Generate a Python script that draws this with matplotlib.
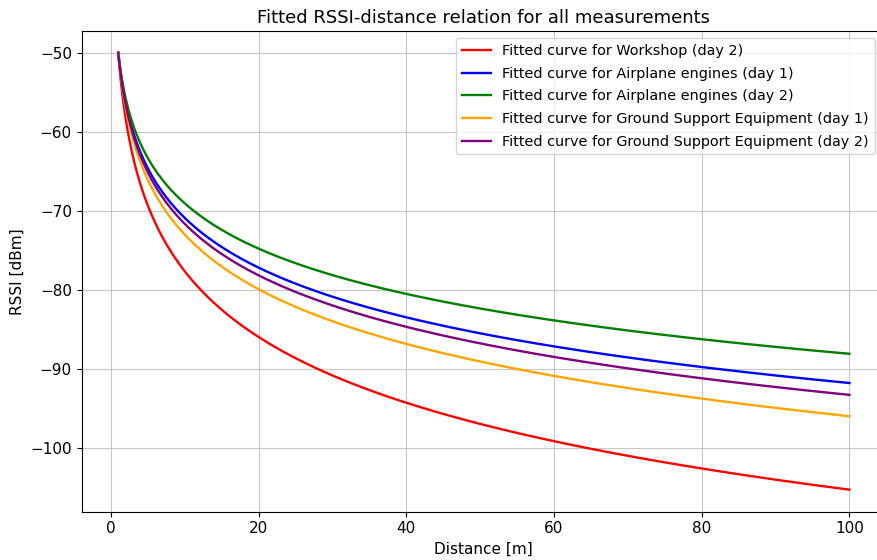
import matplotlib
matplotlib.use("Agg")
import matplotlib.pyplot as plt
import numpy as np

# log-distance fits: RSSI(d) = rssi_1m - 10 * n * log10(d)
labels = [
    "Fitted curve for Workshop (day 2)",
    "Fitted curve for Airplane engines (day 1)",
    "Fitted curve for Airplane engines (day 2)",
    "Fitted curve for Ground Support Equipment (day 1)",
    "Fitted curve for Ground Support Equipment (day 2)",
]
colors = ["red", "blue", "green", "orange", "purple"]
rssi_1m = [-50.0, -50.0, -50.0, -50.0, -50.0]
path_loss_exp = [2.765, 2.09, 1.905, 2.30, 2.165]

distance = np.linspace(1, 100, 500)

fig = plt.figure(figsize=(8.77, 5.6), dpi=100)
ax = fig.add_axes([81.7 / 877, 48.5 / 560, 804.3 / 877, 480.5 / 560])

for label, color, p0, n in zip(labels, colors, rssi_1m, path_loss_exp):
    ax.plot(distance, p0 - 10 * n * np.log10(distance), color=color, label=label, linewidth=1.7)

ax.set_title("Fitted RSSI-distance relation for all measurements", fontsize=13)
ax.set_xlabel("Distance [m]", fontsize=11)
ax.set_ylabel("RSSI [dBm]", fontsize=11)
ax.tick_params(labelsize=11)
ax.grid(True, color="#b0b0b0", alpha=0.7)
ax.legend(loc="upper right", fontsize=10.4, labelspacing=0.6, bbox_to_anchor=(0.995, 1.0))

fig.savefig("out.png", dpi=100)
